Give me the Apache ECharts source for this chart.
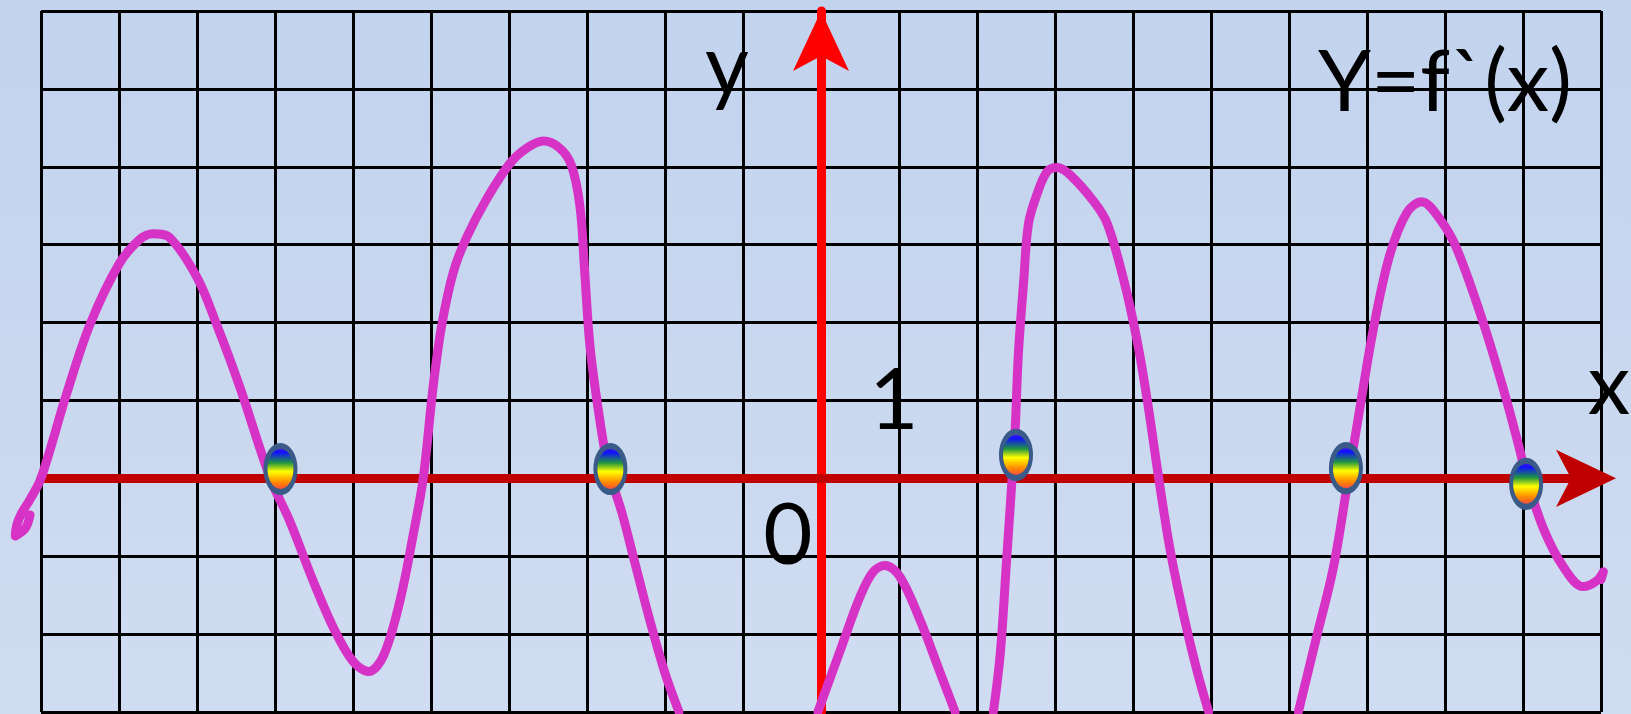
<!DOCTYPE html>
<html>
<head>
<meta charset="utf-8">
<script src="https://cdn.jsdelivr.net/npm/echarts@6/dist/echarts.min.js"></script>
<style>
  html, body { margin: 0; padding: 0; overflow: hidden; }
  #chart { width: 1631px; height: 714px; }
</style>
</head>
<body>
<div id="chart"></div>
<script>
// Axis extents: one grid cell per unit
const xRange = [-10, 10];
const yRange = [-3, 6];
// Wider invisible frame for the curve, so its ends may run past the grid edge
const curveXRange = [-10.5, 10.3];

// Graph of y = f'(x), one array per branch (branches leave through the bottom edge)
const branchA = [
  [-10.14, -0.47], [-10.2, -0.64], [-10.33, -0.74], [-10.31, -0.6], [-10.25, -0.45],
  [-10.14, -0.27], [-10.0, 0.0], [-9.67, 1.09],
  [-9.37, 1.98], [-9.0, 2.75], [-8.73, 3.07], [-8.56, 3.14], [-8.35, 3.09],
  [-8.0, 2.58], [-7.75, 1.98], [-7.45, 1.17], [-7.06, 0.0], [-6.81, -0.55],
  [-6.51, -1.32], [-6.25, -1.92], [-6.0, -2.35], [-5.8, -2.48], [-5.61, -2.28],
  [-5.4, -1.58], [-5.22, -0.68], [-5.1, 0.0], [-4.97, 1.2], [-4.86, 1.98],
  [-4.71, 2.66], [-4.54, 3.1], [-4.29, 3.58], [-3.99, 4.04], [-3.77, 4.24],
  [-3.56, 4.33], [-3.35, 4.24], [-3.2, 4.02], [-3.09, 3.49], [-3.03, 2.66],
  [-2.96, 1.68], [-2.83, 0.71], [-2.72, 0.1], [-2.55, -0.45], [-2.4, -1.03],
  [-2.19, -1.84], [-2.0, -2.5], [-1.82, -3.0]
];
const branchB = [
  [-0.04, -3.0], [0.25, -2.2], [0.5, -1.52], [0.67, -1.2], [0.82, -1.12],
  [1.01, -1.26], [1.27, -1.82], [1.53, -2.5], [1.72, -3.0]
];
const branchC = [
  [2.21, -3.0], [2.3, -2.23], [2.38, -1.04], [2.45, 0.0], [2.49, 0.64],
  [2.53, 1.59], [2.6, 2.55], [2.66, 3.27], [2.77, 3.65], [2.9, 3.94],
  [3.03, 3.99], [3.2, 3.89], [3.5, 3.55], [3.67, 3.27], [3.88, 2.55],
  [4.05, 1.78], [4.18, 1.02], [4.33, 0.0], [4.48, -0.94], [4.65, -1.76],
  [4.82, -2.47], [4.97, -3.0]
];
const branchD = [
  [6.12, -3.0], [6.35, -2.05], [6.57, -1.14], [6.76, 0.0], [6.91, 0.91],
  [7.08, 1.91], [7.29, 2.86], [7.51, 3.41], [7.7, 3.55], [7.94, 3.32],
  [8.15, 2.95], [8.49, 2.0], [8.75, 1.14], [8.96, 0.36], [9.04, 0.02],
  [9.26, -0.64], [9.52, -1.14], [9.77, -1.39], [9.94, -1.32], [10.03, -1.2],
  [10.0, -1.3]
];

// Zeros of f'(x), marked with rainbow dots
const zeroMarks = [[-6.93, 0.12], [-2.70, 0.12], [2.50, 0.30], [6.73, 0.13], [9.04, -0.07]];

// Text drawn on the plane
const titleText = 'Y=f`(x)';
const yAxisName = 'y';
const xAxisName = 'x';
const unitLabel = '1';
const originLabel = '0';

const FONT = 'Lato, "Open Sans", sans-serif';
const CURVE = '#d633c6';

const W = 1631, H = 714;
const gridBox = { left: 41, right: 30, top: 11, bottom: 2 };
const unitPx = (W - gridBox.left - gridBox.right) / (xRange[1] - xRange[0]);
const curveLeft = gridBox.left - (xRange[0] - curveXRange[0]) * unitPx;
const curveRight = gridBox.right - (curveXRange[1] - xRange[1]) * unitPx;

const chart = echarts.init(document.getElementById('chart'), null, { renderer: 'canvas' });

const rainbow = new echarts.graphic.LinearGradient(0, 0, 0, 1, [
  { offset: 0.0, color: '#8a1fd0' },
  { offset: 0.18, color: '#1010ff' },
  { offset: 0.38, color: '#1f9440' },
  { offset: 0.55, color: '#ffff00' },
  { offset: 0.75, color: '#ff8c00' },
  { offset: 1.0, color: '#f0186e' }
]);

function branchSeries(data) {
  return {
    type: 'line',
    xAxisIndex: 1,
    yAxisIndex: 1,
    data: data,
    smooth: 0.35,
    clip: false,
    showSymbol: false,
    silent: true,
    z: 3,
    lineStyle: { color: CURVE, width: 9, cap: 'round', join: 'round' }
  };
}

const gridLine = { show: true, lineStyle: { color: '#000', width: 3 } };
const hiddenAxis = { show: false, axisLine: { show: false }, splitLine: { show: false } };

chart.setOption({
  animation: false,
  backgroundColor: new echarts.graphic.LinearGradient(0, 0, 0, 1, [
    { offset: 0, color: '#c2d3ee' },
    { offset: 1, color: '#d0dcf1' }
  ]),
  grid: [
    Object.assign({ containLabel: false }, gridBox),
    { left: curveLeft, right: curveRight, top: gridBox.top, bottom: gridBox.bottom, containLabel: false }
  ],
  xAxis: [{
    gridIndex: 0,
    type: 'value', min: xRange[0], max: xRange[1], interval: 1,
    axisLabel: { show: false }, axisTick: { show: false },
    splitLine: gridLine,
    axisLine: {
      show: true, onZero: true,
      symbol: ['none', 'arrow'], symbolSize: [43, 60], symbolOffset: [0, 15],
      lineStyle: { color: '#c00000', width: 9 }
    }
  }, Object.assign({ gridIndex: 1, type: 'value', min: curveXRange[0], max: curveXRange[1] }, hiddenAxis)],
  yAxis: [{
    gridIndex: 0,
    type: 'value', min: yRange[0], max: yRange[1], interval: 1,
    axisLabel: { show: false }, axisTick: { show: false },
    splitLine: gridLine,
    axisLine: {
      show: true, onZero: true,
      symbol: ['none', 'arrow'], symbolSize: [42, 60], symbolOffset: [0, 0],
      lineStyle: { color: '#ff0000', width: 9 }
    }
  }, Object.assign({ gridIndex: 1, type: 'value', min: yRange[0], max: yRange[1] }, hiddenAxis)],
  series: [
    branchSeries(branchA),
    branchSeries(branchB),
    branchSeries(branchC),
    branchSeries(branchD),
    {
      type: 'scatter',
      xAxisIndex: 0,
      yAxisIndex: 0,
      data: zeroMarks,
      symbol: 'circle',
      symbolSize: [30, 46],
      silent: true,
      z: 5,
      itemStyle: { color: rainbow, borderColor: '#3a5a88', borderWidth: 5, opacity: 1 }
    }
  ]
});

// Labels anchored to the axes
const px = (x, y) => chart.convertToPixel({ gridIndex: 0 }, [x, y]);
const origin = px(0, 0);
const one = px(1, 0);
const topRight = px(xRange[1], yRange[1]);

function label(text, x, y, align) {
  return {
    type: 'text', z: 10, silent: true,
    style: {
      text: text, x: x, y: y, fill: '#000',
      font: '85px ' + FONT,
      textAlign: align, textVerticalAlign: 'middle'
    }
  };
}

chart.setOption({
  graphic: [
    label(titleText, 1318, 84, 'left'),
    label(yAxisName, origin[0] - 116, 68, 'left'),
    label(unitLabel, one[0] - 5, origin[1] - 77, 'center'),
    label(originLabel, origin[0] - 33, origin[1] + 58, 'center'),
    label(xAxisName, topRight[0] + 8, origin[1] - 92, 'center')
  ]
});
</script>
</body>
</html>
